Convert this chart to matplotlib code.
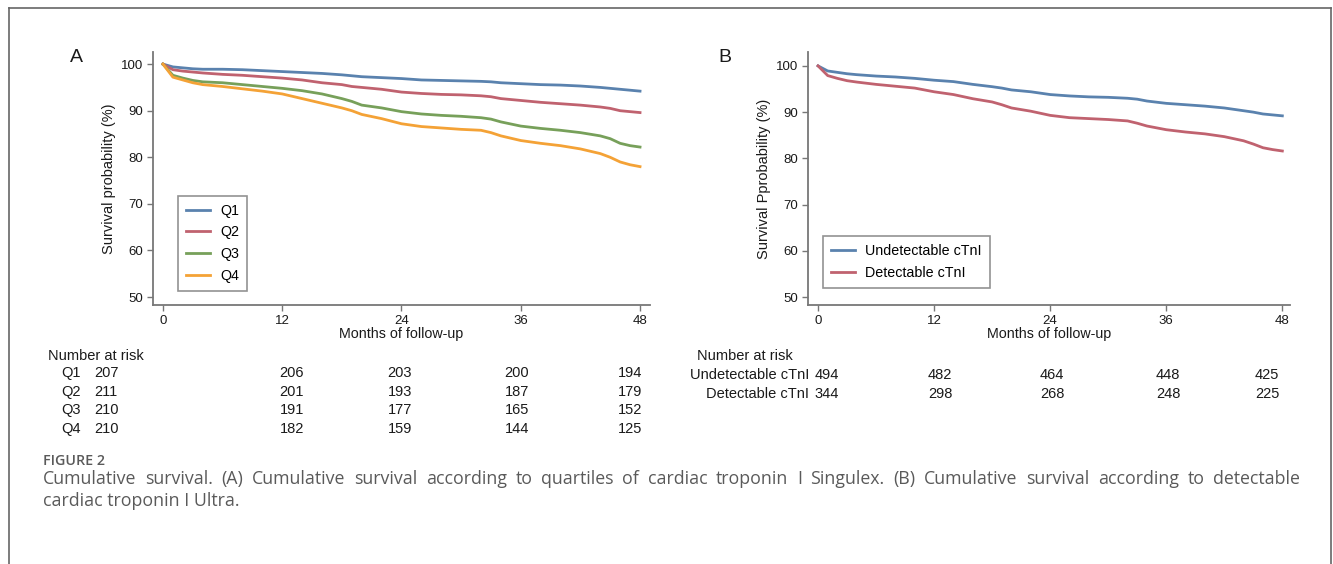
import matplotlib
matplotlib.use("Agg")
import matplotlib.pyplot as plt
from matplotlib.lines import Line2D

plt.rcParams["font.family"] = ["Liberation Sans", "DejaVu Sans"]

months = [0, 1, 2, 3, 4, 6, 8, 10, 12, 14, 16, 18, 19, 20, 22, 24, 26, 28,
          30, 32, 33, 34, 36, 38, 40, 42, 44, 45, 46, 47, 48]

# Panel A - quartiles of cTnI Singulex
q1 = [100, 99.4, 99.2, 99.0, 98.9, 98.9, 98.8, 98.6, 98.4, 98.2, 98.0, 97.7, 97.5, 97.3,
      97.1, 96.9, 96.6, 96.5, 96.4, 96.3, 96.2, 96.0, 95.8, 95.6, 95.5, 95.3, 95.0, 94.8,
      94.6, 94.4, 94.2]
q2 = [100, 98.8, 98.5, 98.3, 98.1, 97.8, 97.6, 97.3, 97.0, 96.6, 96.0, 95.6, 95.2, 95.0,
      94.6, 94.0, 93.7, 93.5, 93.4, 93.2, 93.0, 92.6, 92.2, 91.8, 91.5, 91.2, 90.8, 90.5,
      90.0, 89.8, 89.6]
q3 = [100, 97.6, 97.0, 96.5, 96.2, 96.0, 95.6, 95.2, 94.8, 94.3, 93.6, 92.6, 92.0, 91.2,
      90.6, 89.8, 89.3, 89.0, 88.8, 88.5, 88.2, 87.6, 86.7, 86.2, 85.8, 85.3, 84.6, 84.0,
      83.0, 82.5, 82.2]
q4 = [100, 97.2, 96.6, 96.0, 95.6, 95.2, 94.7, 94.2, 93.6, 92.6, 91.6, 90.6, 90.0, 89.2,
      88.3, 87.2, 86.6, 86.3, 86.0, 85.8, 85.3, 84.6, 83.6, 83.0, 82.5, 81.8, 80.8, 80.0,
      79.0, 78.4, 78.0]

# Panel B - detectable cTnI Ultra
undet = [100, 98.9, 98.6, 98.3, 98.1, 97.8, 97.6, 97.3, 96.9, 96.6, 96.0, 95.5, 95.2, 94.8,
         94.4, 93.8, 93.5, 93.3, 93.2, 93.0, 92.8, 92.4, 91.9, 91.6, 91.3, 90.9, 90.3, 90.0,
         89.6, 89.4, 89.2]
det = [100, 97.9, 97.3, 96.8, 96.5, 96.0, 95.6, 95.2, 94.4, 93.8, 92.9, 92.2, 91.6, 90.9,
       90.2, 89.3, 88.8, 88.6, 88.4, 88.1, 87.6, 87.0, 86.2, 85.7, 85.3, 84.7, 83.8, 83.1,
       82.3, 81.9, 81.6]

risk_labels_a = ["Q1", "Q2", "Q3", "Q4"]
risk_a = [[207, 206, 203, 200, 194],
          [211, 201, 193, 187, 179],
          [210, 191, 177, 165, 152],
          [210, 182, 159, 144, 125]]
risk_labels_b = ["Undetectable cTnI", "Detectable cTnI"]
risk_b = [[494, 482, 464, 448, 425],
          [344, 298, 268, 248, 225]]

caption_1 = ("Cumulative survival. (A) Cumulative survival according to quartiles of cardiac "
             "troponin I Singulex. (B) Cumulative survival according to detectable")
caption_2 = "cardiac troponin I Ultra."

blue, red, green, orange = "#5a82ae", "#c0626f", "#77a05a", "#f4a236"
grey = "#5a5a5a"
ink = "#1a1a1a"

fig = plt.figure(figsize=(13.33, 5.64), dpi=100)


def style_axes(ax, ylabel, xlim, ylim):
    ax.set_xlim(*xlim)
    ax.set_ylim(*ylim)
    ax.set_xticks([0, 12, 24, 36, 48])
    ax.set_yticks([50, 60, 70, 80, 90, 100])
    for s in ["top", "right"]:
        ax.spines[s].set_visible(False)
    for s in ["left", "bottom"]:
        ax.spines[s].set_color("#777777")
        ax.spines[s].set_linewidth(1.3)
    ax.tick_params(colors="#777777", labelcolor=ink, labelsize=9.5,
                   length=4, width=1, pad=3)
    ax.set_xlabel("Months of follow-up", fontsize=10.3, color=ink, labelpad=0)
    ax.set_ylabel(ylabel, fontsize=10.5, color=ink, labelpad=4)


def legend(ax, anchor):
    leg = ax.legend(loc="lower left", bbox_to_anchor=anchor, fontsize=10.3,
                    frameon=True, fancybox=False, edgecolor="#777777",
                    handlelength=1.7, handletextpad=0.7, labelspacing=0.55,
                    borderpad=0.55, borderaxespad=0)
    leg.get_frame().set_linewidth(1.2)


# Panel A
axA = fig.add_axes([0.1148, 0.4592, 0.3728, 0.4486])
for vals, col, lab in zip([q1, q2, q3, q4], [blue, red, green, orange], risk_labels_a):
    axA.plot(months, vals, color=col, lw=2.0, label=lab)
style_axes(axA, "Survival probability (%)", (-1.0, 49.0), (48.3, 102.6))
legend(axA, (0.05, 0.055))

# Panel B
axB = fig.add_axes([0.6062, 0.4592, 0.3616, 0.4486])
axB.plot(months, undet, color=blue, lw=2.0, label=risk_labels_b[0])
axB.plot(months, det, color=red, lw=2.0, label=risk_labels_b[1])
style_axes(axB, "Survival Pprobability (%)", (-1.03, 48.8), (48.3, 103.0))
legend(axB, (0.031, 0.067))

W, H = 1333, 564


def ftext(x, y, s, **kw):
    return fig.text(x / W, 1 - y / H, s, va="center", **kw)


ftext(70, 57, "A", fontsize=14, color=ink)
ftext(718, 57, "B", fontsize=14, color=ink)

# Number at risk tables
fs = 10.5
ftext(48, 356, "Number at risk", fontsize=fs, color=ink)
cols_a = [106, 292, 400, 517, 630]
for i, (lab, row) in enumerate(zip(risk_labels_a, risk_a)):
    y = 373 + i * 18.7
    ftext(81, y, lab, fontsize=fs, ha="right", color=ink)
    for x, v in zip(cols_a, row):
        ftext(x, y, str(v), fontsize=fs, ha="center", color=ink)

ftext(697, 356, "Number at risk", fontsize=fs, color=ink)
cols_b = [827, 940, 1052, 1168, 1267]
for i, (lab, row) in enumerate(zip(risk_labels_b, risk_b)):
    y = 375 + i * 19
    ftext(809, y, lab, fontsize=fs, ha="right", color=ink)
    for x, v in zip(cols_b, row):
        ftext(x, y, str(v), fontsize=fs, ha="center", color=ink)

# Caption (first line justified between x=43 and x=1300)
cap = ["Open Sans", "DejaVu Sans"]
ftext(43, 461, "FIGURE 2", fontsize=10.3, color=grey, family=cap, weight="semibold")
renderer = fig.canvas.get_renderer()
words = caption_1.split(" ")
arts = [ftext(0, 479, w, fontsize=12.8, color=grey, family=cap) for w in words]
widths = [a.get_window_extent(renderer).width for a in arts]
gap = (1300 - 43 - sum(widths)) / (len(words) - 1)
x = 43
for a, w in zip(arts, widths):
    a.set_x(x / W)
    x += w + gap
ftext(43, 501, caption_2, fontsize=12.8, color=grey, family=cap)

# Frame
fc = "#666666"
fig.add_artist(Line2D([9 / W, 1331 / W], [1 - 8 / H, 1 - 8 / H], color=fc, lw=1.2))
fig.add_artist(Line2D([9 / W, 9 / W], [0, 1 - 8 / H], color=fc, lw=1.2))
fig.add_artist(Line2D([1331 / W, 1331 / W], [0, 1 - 8 / H], color=fc, lw=1.2))

fig.savefig("out.png", dpi=100)
